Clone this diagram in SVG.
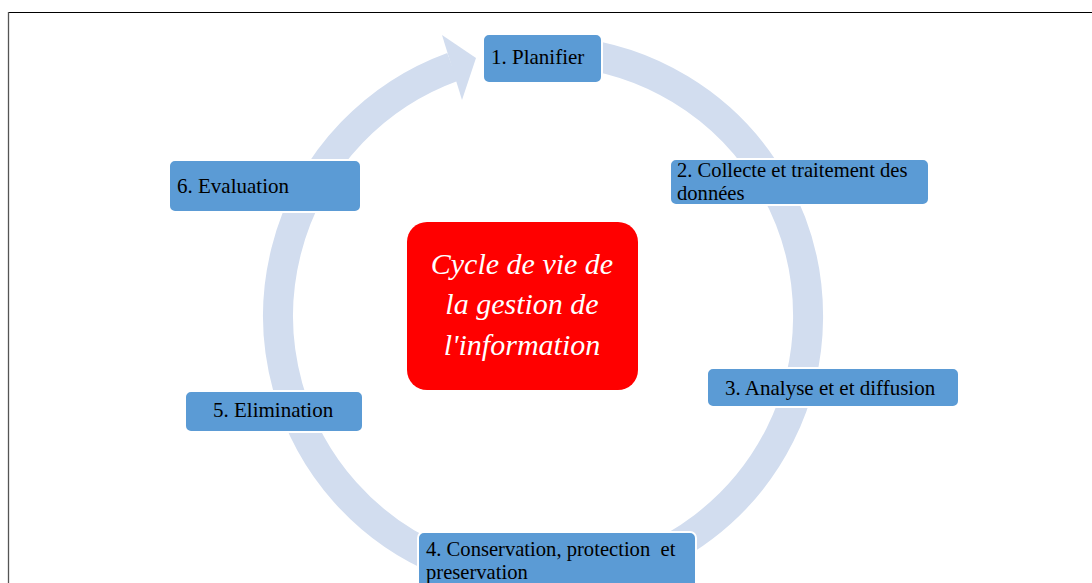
<svg xmlns="http://www.w3.org/2000/svg" width="1092" height="583" viewBox="0 0 1092 583">
<style>
.box{fill:#5b9bd5;stroke:#ffffff;stroke-width:2}
.lbl{font-family:"Liberation Serif","Times New Roman",serif;font-size:21px;fill:#000000}
.lbl2{font-family:"Liberation Serif","Times New Roman",serif;font-size:20.6px;fill:#000000}
.title{font-family:"Liberation Serif","Times New Roman",serif;font-style:italic;font-size:30px;fill:#ffffff;text-anchor:middle}
.ring{fill:none;stroke:#d2ddef;stroke-width:30}
</style>
<rect x="0" y="0" width="1092" height="583" fill="#ffffff"/>
<g id="frame">
<line x1="8" y1="12.5" x2="1092" y2="12.5" stroke="#000000" stroke-width="1.2"/>
<line x1="8.5" y1="12" x2="8.5" y2="583" stroke="#555555" stroke-width="1.3"/>
</g>
<g id="connectors">
<path class="ring" d="M 566.1 52 A 265 265 0 1 1 452.4 67.0"/>
<polygon points="442,35 476,58 462,100" fill="#d2ddef"/>
</g>
<g id="center">
<rect x="407" y="222" width="231" height="168" rx="20" ry="20" fill="#ff0000"/>
<text class="title" x="522" y="274">Cycle de vie de</text>
<text class="title" x="522" y="314">la gestion de</text>
<text class="title" x="522" y="355">l'information</text>
</g>
<g id="node1">
<rect class="box" x="483" y="34" width="119" height="49" rx="6"/>
<text class="lbl" x="491" y="64">1. Planifier</text>
</g>
<g id="node2">
<rect class="box" x="670" y="159" width="259" height="46" rx="6"/>
<text class="lbl2" x="677" y="177">2. Collecte et traitement des</text>
<text class="lbl2" x="677" y="200">données</text>
</g>
<g id="node3">
<rect class="box" x="707" y="368" width="252" height="39" rx="6"/>
<text class="lbl" x="725" y="395">3. Analyse et et diffusion</text>
</g>
<g id="node4">
<rect class="box" x="418" y="532" width="278" height="60" rx="6"/>
<text class="lbl2" x="426" y="556" xml:space="preserve">4. Conservation, protection  et</text>
<text class="lbl2" x="426" y="579">preservation</text>
</g>
<g id="node5">
<rect class="box" x="185" y="391" width="178" height="41" rx="6"/>
<text class="lbl" x="213" y="417">5. Elimination</text>
</g>
<g id="node6">
<rect class="box" x="169" y="160" width="192" height="52" rx="6"/>
<text class="lbl" x="177" y="193">6. Evaluation</text>
</g>
</svg>
